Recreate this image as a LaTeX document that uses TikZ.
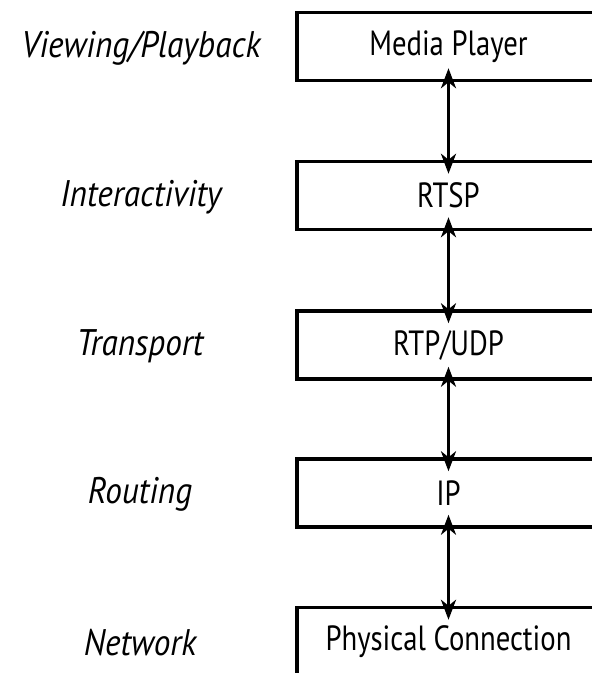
\documentclass[tikz,border=0pt]{standalone}
\usepackage{fontspec}
\usetikzlibrary{arrows.meta}
\newfontfamily\layerfont{PT Sans}[FakeStretch=0.82]
\newfontfamily\rolefont{PT Sans}[FakeStretch=0.9]
\tikzset{
  layer/.style={draw, line width=3.5pt, minimum width=303pt, minimum height=68pt,
    inner sep=0pt, font=\layerfont\fontsize{35}{40}\selectfont},
  role/.style={inner sep=0pt, font=\rolefont\itshape\fontsize{37}{42}\selectfont},
  link/.style={line width=3pt, {Stealth[length=20pt,width=15pt,inset=6pt]}-{Stealth[length=20pt,width=15pt,inset=6pt]},
    shorten <=-14pt, shorten >=-14pt}
}
\begin{document}
\begin{tikzpicture}[x=1pt,y=-1pt]
  \useasboundingbox (0,0) rectangle (592,673);
  \clip (0,0) rectangle (592,673);
  \fill[white] (0,0) rectangle (592,673);

  \node[layer] (player) at (448.5,46.5) {Media Player};
  \node[layer] (rtsp) at (448.5,195.5) {RTSP};
  \node[layer] (rtp) at (448.5,345) {RTP/UDP};
  \node[layer] (ip) at (448.5,493) {IP};
  \node[layer] (phys) at (448.5,641.5) {Physical Connection};

  \node[role] (viewing) at (141,48) {Viewing/Playback};
  \node[role] (interact) at (141,197) {Interactivity};
  \node[role] (transport) at (140,346) {Transport};
  \node[role] (routing) at (140,494) {Routing};
  \node[role] (network) at (140,643) {Network};

  \draw[link] (player.south) -- (rtsp.north);
  \draw[link] (rtsp.south) -- (rtp.north);
  \draw[link] (rtp.south) -- (ip.north);
  \draw[link] (ip.south) -- (phys.north);
\end{tikzpicture}
\end{document}
